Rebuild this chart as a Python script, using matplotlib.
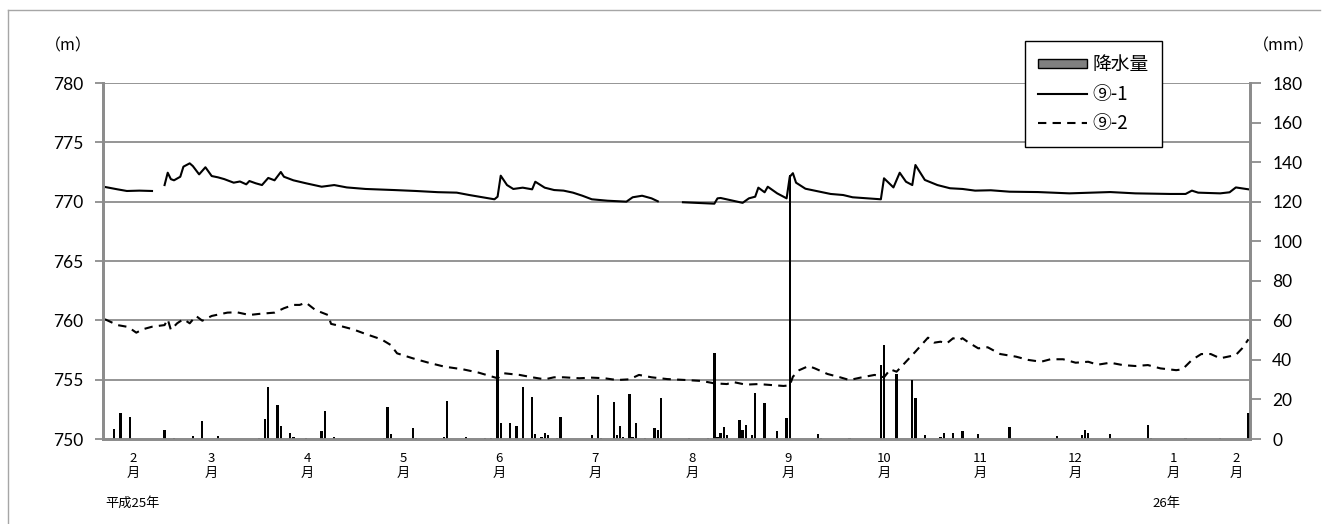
import numpy as np
import matplotlib.pyplot as plt
from matplotlib.patches import Patch
from matplotlib.lines import Line2D

plt.rcParams['font.family'] = ['Noto Sans CJK JP', 'DejaVu Sans']

# days counted from 2013-02-10
start = np.datetime64('2013-02-10')
x_min, x_max = -0.6, 364.5

# 降水量 (mm)
rain_day = [3, 5, 8, 19, 22, 28, 31, 36, 49, 51, 52, 55, 56, 59, 60, 64, 69, 70, 73,
            89, 90, 91, 98, 99, 108, 109, 115, 121, 123, 125, 126, 129, 131, 133, 136,
            137, 139, 140, 141, 144, 145, 155, 157, 158, 162, 163, 164, 165, 167, 168,
            169, 172, 175, 176, 177, 186, 192, 194, 195, 196, 197, 198, 202, 203, 204,
            206, 207, 210, 214, 217, 218, 227, 228, 237, 247, 248, 252, 257, 258, 261,
            266, 267, 270, 273, 278, 288, 303, 311, 312, 313, 320, 332, 333, 344, 355, 364]
rain_mm = [5, 13, 11, 4.5, 0.5, 1.5, 9, 1.5, 0.5, 10, 26.5, 17, 6.5, 3, 1, 0.5, 4, 14, 1,
           0.5, 16, 2.4, 5.4, 0.5, 1, 19, 1, 0.5, 0.5, 45, 8, 8, 6.5, 26.5, 21,
           2.4, 1, 3, 2, 0.5, 11, 2, 22.5, 0.5, 18.5, 2, 6.4, 1, 23, 1,
           8, 0.5, 5.4, 4.4, 20.5, 0.5, 0.5, 43.3, 1, 3, 6, 2, 9.5, 4.4, 7,
           2, 23.4, 18.2, 3.9, 10.5, 133.5, 2.4, 0.5, 0.5, 37.4, 47.5, 32.9, 29.7, 20.6, 2,
           1, 3, 3, 3.9, 2.4, 6, 1.5, 2, 4.4, 3, 2.4, 7.3, 0.5, 0.5, 0.5, 13.3]

# ⑨-1 (m)
w1_day = [0, 4, 7, 11, 15, 17, 19, 20, 21, 22, 24, 25, 27, 28, 30, 32, 34, 36, 38, 41, 43,
          45, 46, 48, 50, 52, 54, 56, 57, 60, 64, 69, 73, 77, 83, 92, 99, 106, 112, 116,
          124, 125, 126, 128, 130, 133, 136, 137, 140, 143, 146, 149, 152, 155, 160, 166,
          168, 171, 174, 176, 180, 184, 194, 195, 196, 203, 205, 207, 208, 210, 211, 214,
          217, 218, 219, 220, 223, 227, 231, 235, 238, 247, 248, 251, 253, 255, 257, 258,
          259, 261, 265, 269, 273, 277, 282, 288, 297, 307, 320, 328, 339, 344, 346, 348,
          355, 358, 360, 364]
w1_m = [771.24, 771.04, 770.9, 770.93, 770.9, np.nan, 771.4, 772.44, 771.9, 771.8, 772.1,
        772.95, 773.23, 773.0, 772.3, 772.9, 772.16, 772.05, 771.9, 771.6, 771.7,
        771.46, 771.74, 771.55, 771.4, 772.0, 771.8, 772.5, 772.1, 771.8, 771.55, 771.26,
        771.4, 771.2, 771.07, 770.98, 770.9, 770.8, 770.76, 770.56,
        770.2, 770.42, 772.19, 771.4, 771.07, 771.18, 771.04, 771.68, 771.18, 770.98,
        770.93, 770.76, 770.5, 770.2, 770.08, 770.0,
        770.37, 770.5, 770.28, 770.03, np.nan, 769.95, 769.83, 770.28, 770.31, 769.9,
        770.28, 770.42, 771.18, 770.79, 771.26, 770.7,
        770.28, 772.1, 772.4, 771.6, 771.09, 770.87, 770.65, 770.56, 770.37, 770.2,
        771.97, 771.2, 772.44, 771.68, 771.4, 773.09,
        772.67, 771.83, 771.4, 771.13, 771.07, 770.93, 770.96, 770.84, 770.81, 770.7,
        770.81, 770.7, 770.65, 770.65, 770.93, 770.76,
        770.7, 770.79, 771.2, 771.04]

# ⑨-2 (m)
w2_day = [0, 1, 4, 7, 8, 10, 12, 15, 19, 20, 21, 23, 25, 27, 29, 31, 34, 39, 42, 46, 49,
          54, 57, 60, 62, 64, 67, 71, 72, 75, 79, 83, 88, 91, 93, 98, 103, 108, 114, 119,
          125, 127, 132, 136, 140, 143, 146, 151, 155, 159, 163, 167, 170, 174, 179, 185,
          190, 194, 198, 200, 204, 208, 212, 216, 218, 219, 221, 224, 226, 230, 234, 237,
          241, 245, 248, 250, 252, 254, 258, 262, 264, 266, 268, 270, 272, 273, 275, 278,
          281, 285, 290, 294, 298, 301, 305, 309, 313, 316, 320, 324, 328, 332, 336, 341,
          343, 346, 349, 352, 355, 360, 362, 364]
w2_m = [760.09, 759.97, 759.6, 759.46, 759.33, 758.96, 759.24, 759.46, 759.6, 760.09,
        759.2, 759.75, 760.1, 759.75, 760.37, 759.97, 760.37, 760.65, 760.68, 760.45,
        760.54, 760.65, 761.02, 761.3, 761.3, 761.49, 760.87, 760.45, 759.7, 759.52,
        759.24, 758.85, 758.4, 757.92, 757.22, 756.8, 756.43, 756.1, 755.87, 755.59,
        755.12, 755.54, 755.4, 755.2, 755.03, 755.2, 755.2, 755.12, 755.17, 755.12,
        754.97, 755.03, 755.4, 755.2, 755.05, 754.97, 754.89, 754.69, 754.63, 754.8,
        754.58, 754.63, 754.55, 754.47, 754.52, 755.25, 755.8, 756.15, 755.95, 755.48,
        755.2, 754.97, 755.2, 755.4, 755.2, 755.87, 755.67, 756.23, 757.36, 758.54,
        758.12, 758.2, 758.06, 758.49, 758.34, 758.49, 758.12, 757.64, 757.73, 757.16,
        756.94, 756.66, 756.51, 756.72, 756.72, 756.43, 756.51, 756.26, 756.43, 756.23,
        756.15, 756.23, 755.95, 755.8, 755.87, 756.66, 757.16, 757.16, 756.8, 757.08,
        757.64, 758.4]

grid_c = '#8c8c8c'
dash = (0, (4, 3))

fig = plt.figure(figsize=(13.27, 5.24), dpi=100)
ax = fig.add_axes([103 / 1327, 1 - 439 / 524, 1147 / 1327, 356 / 524])
ax2 = ax.twinx()

ax.plot(w1_day, w1_m, color='black', lw=1.5)
ax.plot(w2_day, w2_m, color='black', lw=1.5, ls=dash)
ax2.bar(rain_day, rain_mm, width=0.75, color='black')

ax.set_xlim(x_min, x_max)
ax.set_ylim(750, 780)
ax.set_yticks(np.arange(750, 781, 5))
ax2.set_ylim(0, 180)
ax2.set_yticks(np.arange(0, 181, 20))
ax.yaxis.grid(True, color=grid_c, lw=1.3)
ax.set_axisbelow(True)

# month labels centred in the visible part of each month
months = np.arange(np.datetime64('2013-02'), np.datetime64('2014-03'))
ticks, labels = [], []
for m in months:
    a = int((m.astype('datetime64[D]') - start).astype(int)) - 0.5
    b = int(((m + 1).astype('datetime64[D]') - start).astype(int)) - 0.5
    ticks.append((max(a, x_min) + min(b, x_max)) / 2)
    labels.append(f"{m.astype(object).month}\n月")
ax.set_xticks(ticks, labels)
ax.tick_params(axis='x', length=0, pad=9, labelsize=9.5)

for a_ in (ax, ax2):
    for s in a_.spines.values():
        s.set_color(grid_c)
        s.set_linewidth(2)
    a_.spines['top'].set_visible(False)
ax.tick_params(axis='y', length=6, width=1.3, color=grid_c, labelsize=12.5, pad=8)
ax2.tick_params(axis='y', length=8, width=1.3, color=grid_c, labelsize=12.5, pad=8)
for lbl in ax.get_yticklabels() + ax2.get_yticklabels():
    lbl.set_fontfamily('Lato')

fig.text(68 / 1327, 1 - 46 / 524, '（m）', ha='center', va='center', fontsize=11.5)
fig.text(1284 / 1327, 1 - 46 / 524, '（mm）', ha='center', va='center', fontsize=11.5)
fig.text(105 / 1327, 1 - 503 / 524, '平成25年', ha='left', va='center', fontsize=9.5)
fig.text(1166 / 1327, 1 - 503 / 524, '26年', ha='center', va='center', fontsize=9.5)

# outer frame (top and left edges)
fig.add_artist(Line2D([8 / 1327, 1320 / 1327], [1 - 10 / 524, 1 - 10 / 524],
                      color='#a6a6a6', lw=1))
fig.add_artist(Line2D([8 / 1327, 8 / 1327], [1 - 10 / 524, 0], color='#a6a6a6', lw=1))

handles = [Patch(facecolor='#808080', edgecolor='black', lw=1),
           Line2D([], [], color='black', lw=1.5),
           Line2D([], [], color='black', lw=1.5, ls=dash)]
leg = fig.legend(handles, ['降水量', '⑨-1', '⑨-2'], loc='upper left',
                 bbox_to_anchor=(1025 / 1327, 1 - 41 / 524), borderaxespad=0,
                 fancybox=False, edgecolor='black', framealpha=1, fontsize=13.5,
                 handlelength=2.6, handleheight=0.4, labelspacing=0.45,
                 borderpad=0.7, handletextpad=0.3)
leg.get_frame().set_linewidth(1.0)

fig.savefig('out.png', dpi=100)
